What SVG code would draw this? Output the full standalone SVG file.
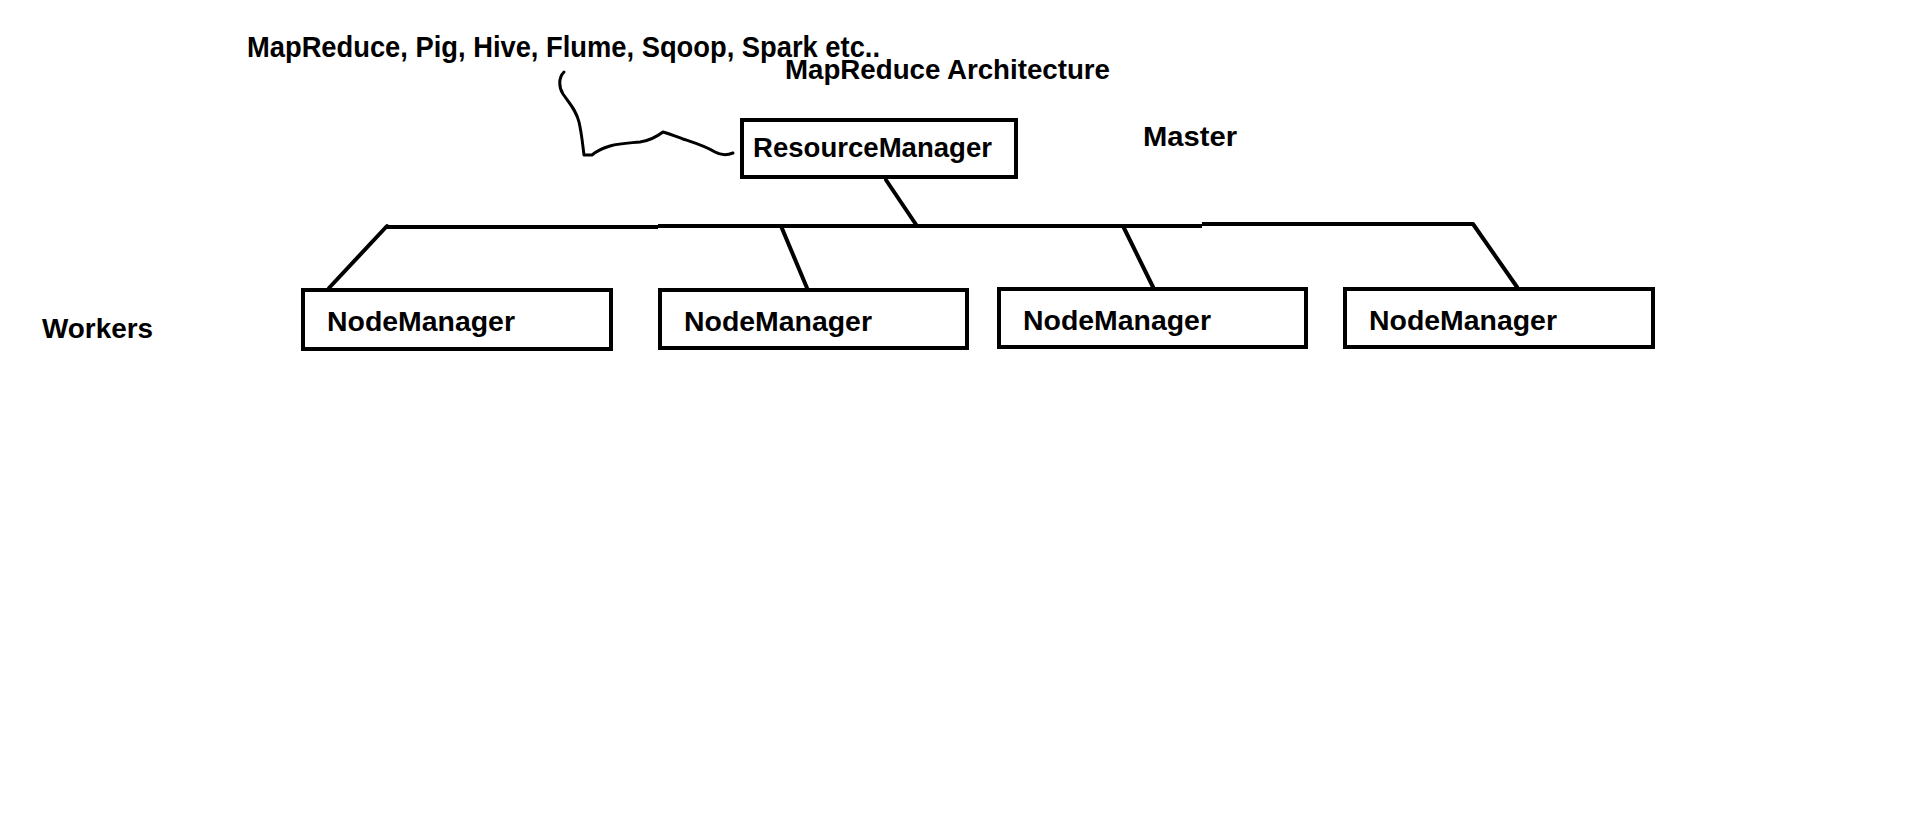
<svg xmlns="http://www.w3.org/2000/svg" width="1914" height="826" viewBox="0 0 1914 826">
<style>
text{font-family:"Liberation Sans",Arial,sans-serif;font-weight:bold;font-size:27px;fill:#000}
.big{font-size:29px}
.box{fill:#fff;stroke:#000;stroke-width:4}
.ln{stroke:#000;stroke-width:4;fill:none;stroke-linecap:round}
.cv{stroke:#000;stroke-width:3;fill:none;stroke-linecap:round;stroke-linejoin:round}
</style>
<rect width="1914" height="826" fill="#fff"/>
<g id="labels">
<text class="big" x="247" y="57" textLength="633" lengthAdjust="spacingAndGlyphs">MapReduce, Pig, Hive, Flume, Sqoop, Spark etc..</text>
<text x="785" y="79" textLength="325" lengthAdjust="spacingAndGlyphs">MapReduce Architecture</text>
<text x="1143" y="146" textLength="94" lengthAdjust="spacingAndGlyphs">Master</text>
<text x="42" y="338" textLength="111" lengthAdjust="spacingAndGlyphs">Workers</text>
</g>
<g id="connectors">
<path class="cv" d="M564,72 C558,78 559,88 563,94 C570,104 576,110 579,122 C582,135 583,148 584,155 L592,155 C598,150 603,148 610,146 C620,143 630,143 640,142 C648,141 655,138 663,132 C670,134 675,136 683,139 C695,143 705,146 715,152 C722,156 728,155 733,153"/>
<line class="ln" x1="886" y1="180" x2="917" y2="226"/>
<line class="ln" x1="387" y1="227" x2="658" y2="227" style="stroke-linecap:butt"/>
<line class="ln" x1="658" y1="226" x2="1202" y2="226" style="stroke-linecap:butt"/>
<line class="ln" x1="1202" y1="224" x2="1473" y2="224" style="stroke-linecap:butt"/>
<line class="ln" x1="387" y1="226" x2="329" y2="288"/>
<line class="ln" x1="781" y1="226" x2="807" y2="288"/>
<line class="ln" x1="1123" y1="226" x2="1153" y2="287"/>
<line class="ln" x1="1473" y1="224" x2="1517" y2="287"/>
</g>
<g id="resourcemanager">
<rect class="box" x="742" y="120" width="274" height="57"/>
<text x="753" y="157" textLength="239" lengthAdjust="spacingAndGlyphs">ResourceManager</text>
</g>
<g id="nodemanager1">
<rect class="box" x="303" y="290" width="308" height="59"/>
<text x="327" y="331" textLength="188" lengthAdjust="spacingAndGlyphs">NodeManager</text>
</g>
<g id="nodemanager2">
<rect class="box" x="660" y="290" width="307" height="58"/>
<text x="684" y="331" textLength="188" lengthAdjust="spacingAndGlyphs">NodeManager</text>
</g>
<g id="nodemanager3">
<rect class="box" x="999" y="289" width="307" height="58"/>
<text x="1023" y="330" textLength="188" lengthAdjust="spacingAndGlyphs">NodeManager</text>
</g>
<g id="nodemanager4">
<rect class="box" x="1345" y="289" width="308" height="58"/>
<text x="1369" y="330" textLength="188" lengthAdjust="spacingAndGlyphs">NodeManager</text>
</g>
</svg>
